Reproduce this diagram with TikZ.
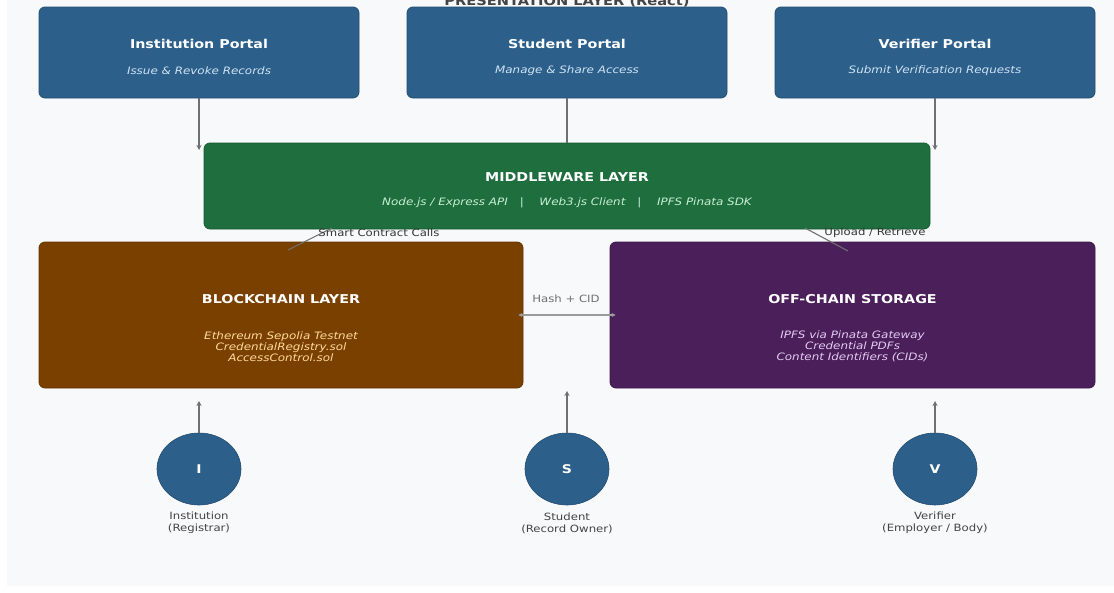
\documentclass[tikz,border=0pt]{standalone}
\usepackage{fontspec}
\setmainfont{DejaVu Sans}[FakeStretch=1.17]
\usetikzlibrary{shapes.geometric,arrows.meta}
\definecolor{bgc}{HTML}{F8F9FA}
\definecolor{portal}{HTML}{2C5F8A}
\definecolor{portalb}{HTML}{244E73}
\definecolor{midg}{HTML}{1E6E3E}
\definecolor{midb}{HTML}{185A32}
\definecolor{bcb}{HTML}{7A4000}
\definecolor{bcbb}{HTML}{633400}
\definecolor{ocp}{HTML}{4A1F5A}
\definecolor{ocpb}{HTML}{3C194A}
\definecolor{arrg}{HTML}{707070}
\definecolor{subblue}{HTML}{CFE3F5}
\definecolor{subgreen}{HTML}{C8EFD2}
\definecolor{suborange}{HTML}{FFD9A0}
\definecolor{subpurple}{HTML}{E3CCF2}
\definecolor{lblg}{HTML}{444444}
\tikzset{
  box/.style={rectangle, rounded corners=6pt, line width=0.8pt, inner sep=0pt},
  ttl/.style={font=\fontsize{12.2}{14}\selectfont\bfseries, text=white, inner sep=0pt},
  sub/.style={font=\fontsize{10.2}{11}\selectfont\itshape, inner sep=0pt, align=center},
  actor/.style={ellipse, fill=portal, draw=portalb, line width=0.6pt, minimum width=84pt, minimum height=72pt, inner sep=0pt, text=white, font=\fontsize{12}{14}\selectfont\bfseries},
  lbl/.style={font=\fontsize{10}{12}\selectfont, text=lblg, align=center, inner sep=0pt},
  arr/.style={draw=arrg, line width=1.3pt, -{Stealth[length=5pt,width=5pt]}},
  dbl/.style={draw=arrg!70, line width=1.3pt, {Stealth[length=4pt,width=4pt]}-{Stealth[length=4pt,width=4pt]}},
  plain/.style={draw=arrg, line width=1.3pt},
}
\begin{document}
\begin{tikzpicture}[x=1pt,y=-1pt]
\useasboundingbox (0,0) rectangle (1114,592);
\fill[white] (0,0) rectangle (1114,592);
\fill[bgc] (7,0) rectangle (1114,586);

% heading, mostly hidden behind the portal row
\node[font=\fontsize{12.5}{14}\selectfont\bfseries, text=lblg, inner sep=0pt] (head) at (567,2) {PRESENTATION LAYER (React)};

% portals
\node[box, fill=portal, draw=portalb, minimum width=320pt, minimum height=91pt] (inst) at (199,52.5) {};
\node[box, fill=portal, draw=portalb, minimum width=320pt, minimum height=91pt] (stud) at (567,52.5) {};
\node[box, fill=portal, draw=portalb, minimum width=320pt, minimum height=91pt] (ver) at (935,52.5) {};
\node[ttl] (instT) at (199,44) {Institution Portal};
\node[sub, text=subblue] (instS) at (199,71) {Issue \& Revoke Records};
\node[ttl] (studT) at (567,44) {Student Portal};
\node[sub, text=subblue] (studS) at (567,71) {Manage \& Share Access};
\node[ttl] (verT) at (935,44) {Verifier Portal};
\node[sub, text=subblue] (verS) at (935,71) {Submit Verification Requests};

% middleware
\node[box, fill=midg, draw=midb, minimum width=726pt, minimum height=86pt] (mid) at (567,186) {};
\node[ttl] (midT) at (567,177) {MIDDLEWARE LAYER};
\node[sub, text=subgreen] (midS) at (567,203) {Node.js / Express API\quad\,|\quad\, Web3.js Client\quad\,|\quad\, IPFS Pinata SDK};

% blockchain and storage
\node[box, fill=bcb, draw=bcbb, minimum width=484pt, minimum height=146pt] (bc) at (281,315) {};
\node[ttl] (bcT) at (281,299) {BLOCKCHAIN LAYER};
\node[sub, text=suborange] (bcS) at (281,346.5) {Ethereum Sepolia Testnet\\CredentialRegistry.sol\\AccessControl.sol};
\node[box, fill=ocp, draw=ocpb, minimum width=485pt, minimum height=146pt] (oc) at (852.5,315) {};
\node[ttl] (ocT) at (852.5,299) {OFF-CHAIN STORAGE};
\node[sub, text=subpurple] (ocS) at (852.5,346.5) {IPFS via Pinata Gateway\\Credential PDFs\\Content Identifiers (CIDs)};

% portal -> middleware
\coordinate (a1) at (199,150);
\coordinate (a3) at (935,150);
\draw[arr] (inst.south) -- (a1);
\draw[plain] (stud.south) -- (mid.north);
\draw[arr] (ver.south) -- (a3);

% middleware -> layers
\coordinate (m1) at (332,228);
\coordinate (b1) at (288,250);
\coordinate (m2) at (805,228);
\coordinate (o1) at (848,251);
\draw[plain, line width=1.1pt] (m1) -- (b1);
\draw[plain, line width=1.1pt] (m2) -- (o1);
\node[lbl, text=lblg!80!black] (scc) at (379,233) {Smart Contract Calls};
\node[lbl, text=lblg!80!black] (upl) at (875,233) {Upload / Retrieve};

% hash + cid
\draw[dbl] ([xshift=-5pt]bc.east) -- ([xshift=6pt]oc.west);
\node[lbl, text=arrg] (hash) at (566,299) {Hash + CID};

% actors
\node[actor] (I) at (199,469) {I};
\node[actor] (S) at (567,469) {S};
\node[actor] (V) at (935,469) {V};
\node[lbl] (Il) at (199,523) {Institution\\(Registrar)};
\node[lbl] (Sl) at (567,523) {Student\\(Record Owner)};
\node[lbl] (Vl) at (935,523) {Verifier\\(Employer / Body)};
\coordinate (i1) at (199,401);
\coordinate (s1) at (567,391);
\coordinate (v1) at (935,401);
\draw[arr] (I.north) -- (i1);
\draw[arr] (S.north) -- (s1);
\draw[arr] (V.north) -- (v1);
\end{tikzpicture}
\end{document}
